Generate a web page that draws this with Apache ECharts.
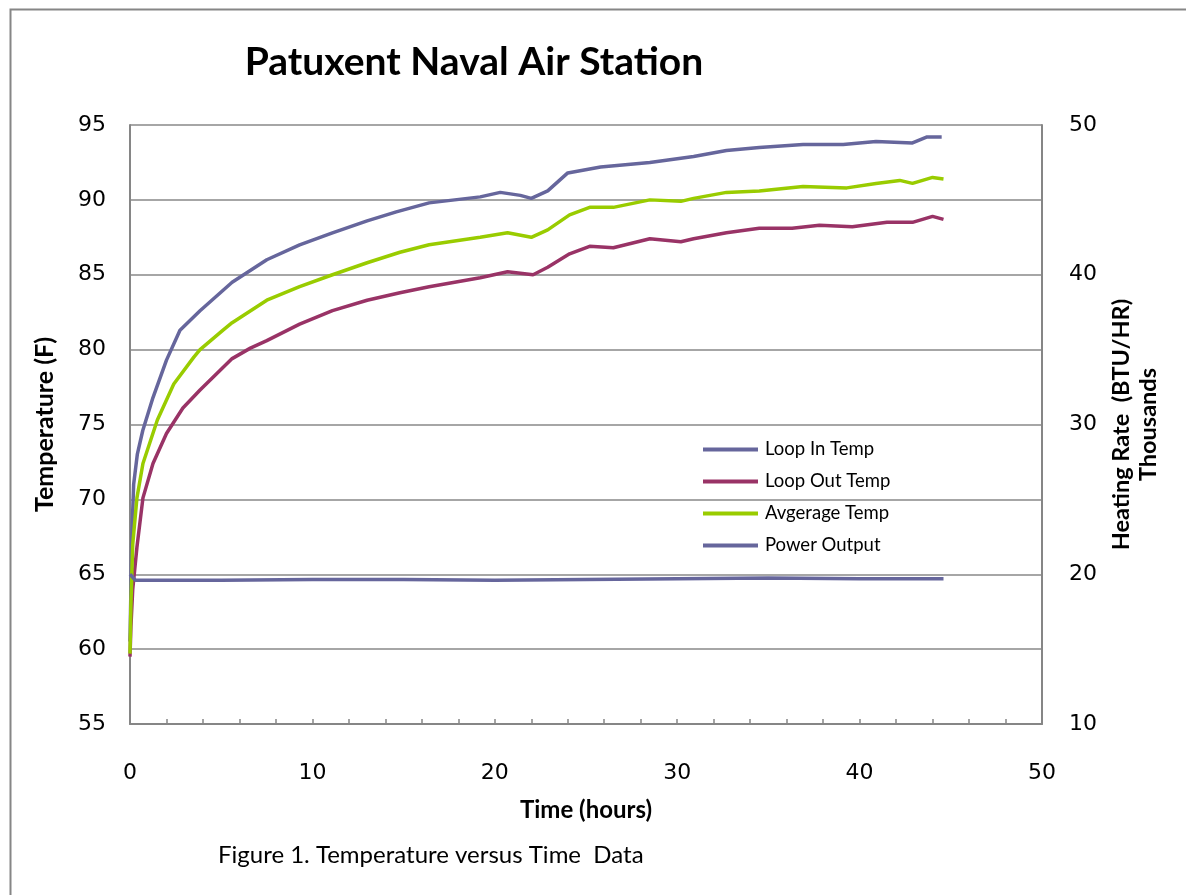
<!DOCTYPE html>
<html>
<head>
<meta charset="utf-8">
<title>Patuxent Naval Air Station</title>
<script src="https://cdn.jsdelivr.net/npm/echarts@6/dist/echarts.min.js"></script>
<style>
  html, body { margin: 0; padding: 0; background: #fff; }
  #main { width: 1186px; height: 895px; }
</style>
</head>
<body>
<div id="main"></div>
<script>
// 图例 / 系列名称
var seriesNames = ['Loop In Temp', 'Loop Out Temp', 'Avgerage Temp', 'Power Output']

// Loop In Temp (左轴, F)
var loopInTime = [0, 0.05, 0.1, 0.2, 0.4, 0.7, 1.26, 2.0, 2.74, 3.84, 5.6, 7.5, 9.3, 11.1, 13.0, 14.6, 16.4, 19.2, 20.3, 21.4, 22.0, 22.9, 24.0, 25.8, 28.5, 30.9, 32.7, 34.5, 36.9, 39.1, 40.9, 42.9, 43.7, 44.5]
var loopInTemp = [60.5, 64, 67.5, 71, 73, 74.6, 76.8, 79.3, 81.3, 82.6, 84.5, 86.0, 87.0, 87.8, 88.6, 89.2, 89.8, 90.2, 90.5, 90.3, 90.1, 90.6, 91.8, 92.2, 92.5, 92.9, 93.3, 93.5, 93.7, 93.7, 93.9, 93.8, 94.2, 94.2]

// Loop Out Temp (左轴, F)
var loopOutTime = [0, 0.05, 0.15, 0.38, 0.71, 1.26, 2.0, 2.9, 3.84, 5.6, 6.6, 7.5, 9.3, 11.1, 13.0, 14.8, 16.4, 19.2, 20.7, 22.1, 22.9, 24.1, 25.2, 26.5, 28.5, 30.2, 30.9, 32.7, 34.5, 36.3, 37.8, 39.6, 41.5, 42.9, 44.0, 44.6]
var loopOutTemp = [59.5, 61.5, 64, 66.8, 70.1, 72.4, 74.4, 76.1, 77.3, 79.4, 80.1, 80.6, 81.7, 82.6, 83.3, 83.8, 84.2, 84.8, 85.2, 85.0, 85.5, 86.4, 86.9, 86.8, 87.4, 87.2, 87.4, 87.8, 88.1, 88.1, 88.3, 88.2, 88.5, 88.5, 88.9, 88.7]

// Avgerage Temp (左轴, F)
var avgTime = [0, 0.05, 0.15, 0.38, 0.71, 1.5, 2.4, 3.5, 3.84, 5.1, 5.6, 7.5, 9.3, 11.1, 13.0, 14.8, 16.4, 19.2, 20.7, 22.0, 22.9, 24.1, 25.2, 26.5, 28.5, 30.2, 30.9, 32.7, 34.5, 36.9, 39.3, 40.9, 42.2, 42.9, 44.0, 44.6]
var avgTemp = [59.7, 63, 67, 70.1, 72.4, 75.3, 77.7, 79.5, 80.0, 81.3, 81.8, 83.3, 84.2, 85.0, 85.8, 86.5, 87.0, 87.5, 87.8, 87.5, 88.0, 89.0, 89.5, 89.5, 90.0, 89.9, 90.1, 90.5, 90.6, 90.9, 90.8, 91.1, 91.3, 91.1, 91.5, 91.4]

// Power Output (右轴, 千 BTU/HR)
var powerTime = [0, 0.3, 5, 10, 15, 20, 25, 30, 35, 40, 44.6]
var powerOut = [20.0, 19.6, 19.6, 19.65, 19.65, 19.6, 19.65, 19.7, 19.75, 19.7, 19.7]

function pairs(xs, ys) {
  return xs.map(function (x, i) { return [x, ys[i]] })
}

var textFont = 'Lato'
var axisGray = '#868686'
var gridGray = '#a6a6a6'

var chart = echarts.init(document.getElementById('main'))

var option = {
  backgroundColor: '#fff',
  animation: false,
  title: {
    text: 'Patuxent Naval Air Station',
    left: 469,
    top: 38,
    textAlign: 'center',
    textStyle: { fontFamily: textFont, fontWeight: 'bold', fontSize: 39, color: '#000' }
  },
  legend: {
    orient: 'vertical',
    left: 698,
    top: 435,
    itemGap: 13,
    itemWidth: 55,
    itemHeight: 4,
    icon: 'rect',
    data: seriesNames,
    textStyle: { fontFamily: textFont, fontSize: 18.5, color: '#000', padding: [0, 0, 0, 2] }
  },
  grid: { left: 130, top: 125, right: 144, bottom: 171 },
  xAxis: {
    type: 'value',
    min: 0,
    max: 50,
    interval: 2,
    name: 'Time (hours)',
    nameLocation: 'middle',
    nameGap: 74,
    nameTextStyle: { fontFamily: textFont, fontWeight: 'bold', fontSize: 24, color: '#000' },
    axisLine: { show: true, onZero: false, lineStyle: { color: axisGray, width: 2 } },
    axisTick: { show: true, inside: true, length: 5, lineStyle: { color: axisGray, width: 1.5 } },
    axisLabel: {
      margin: 38,
      fontFamily: 'DejaVu Sans',
      fontSize: 22,
      color: '#000',
      formatter: function (v) { return v % 10 === 0 ? String(v) : '' }
    },
    splitLine: { show: false }
  },
  yAxis: [
    {
      type: 'value',
      min: 55,
      max: 95,
      interval: 5,
      name: 'Temperature (F)',
      nameLocation: 'middle',
      nameGap: 73,
      nameTextStyle: { fontFamily: textFont, fontWeight: 'bold', fontSize: 25, color: '#000' },
      axisLine: { show: true, lineStyle: { color: axisGray, width: 2 } },
      axisTick: { show: false },
      axisLabel: { margin: 24, fontFamily: 'DejaVu Sans', fontSize: 22, color: '#000' },
      splitLine: { show: true, lineStyle: { color: gridGray, width: 2 } }
    },
    {
      type: 'value',
      position: 'right',
      min: 10,
      max: 50,
      interval: 5,
      name: 'Heating Rate  (BTU/HR)\nThousands',
      nameLocation: 'middle',
      nameGap: 66,
      nameRotate: 90,
      nameTextStyle: { fontFamily: textFont, fontWeight: 'bold', fontSize: 23.5, color: '#000', lineHeight: 27 },
      axisLine: { show: true, lineStyle: { color: axisGray, width: 2 } },
      axisTick: { show: false },
      axisLabel: {
        margin: 27,
        fontFamily: 'DejaVu Sans',
        fontSize: 22,
        color: '#000',
        formatter: function (v) { return v % 10 === 0 ? String(v) : '' }
      },
      splitLine: { show: false }
    }
  ],
  series: [
    {
      name: seriesNames[0],
      type: 'line',
      yAxisIndex: 0,
      showSymbol: false,
      color: '#66669c',
      lineStyle: { width: 3.5 },
      data: pairs(loopInTime, loopInTemp)
    },
    {
      name: seriesNames[1],
      type: 'line',
      yAxisIndex: 0,
      showSymbol: false,
      color: '#993366',
      lineStyle: { width: 3.5 },
      data: pairs(loopOutTime, loopOutTemp)
    },
    {
      name: seriesNames[2],
      type: 'line',
      yAxisIndex: 0,
      showSymbol: false,
      color: '#99cc00',
      lineStyle: { width: 3.5 },
      data: pairs(avgTime, avgTemp)
    },
    {
      name: seriesNames[3],
      type: 'line',
      yAxisIndex: 1,
      showSymbol: false,
      color: '#66669c',
      lineStyle: { width: 3.5 },
      data: pairs(powerTime, powerOut)
    }
  ],
  graphic: [
    {
      // 外框
      type: 'rect',
      left: 8,
      top: 7,
      shape: { width: 1300, height: 1000 },
      style: { fill: 'none', stroke: axisGray, lineWidth: 2 },
      silent: true
    },
    {
      // 顶边(绘图区)
      type: 'line',
      shape: { x1: 130, y1: 125, x2: 1042, y2: 125 },
      style: { stroke: gridGray, lineWidth: 2 },
      silent: true
    },
    {
      type: 'text',
      left: 218,
      top: 843,
      style: {
        text: 'Figure 1. Temperature versus Time  Data',
        fontFamily: textFont,
        fontSize: 24,
        fill: '#000'
      }
    }
  ]
}

chart.setOption(option)
</script>
</body>
</html>
